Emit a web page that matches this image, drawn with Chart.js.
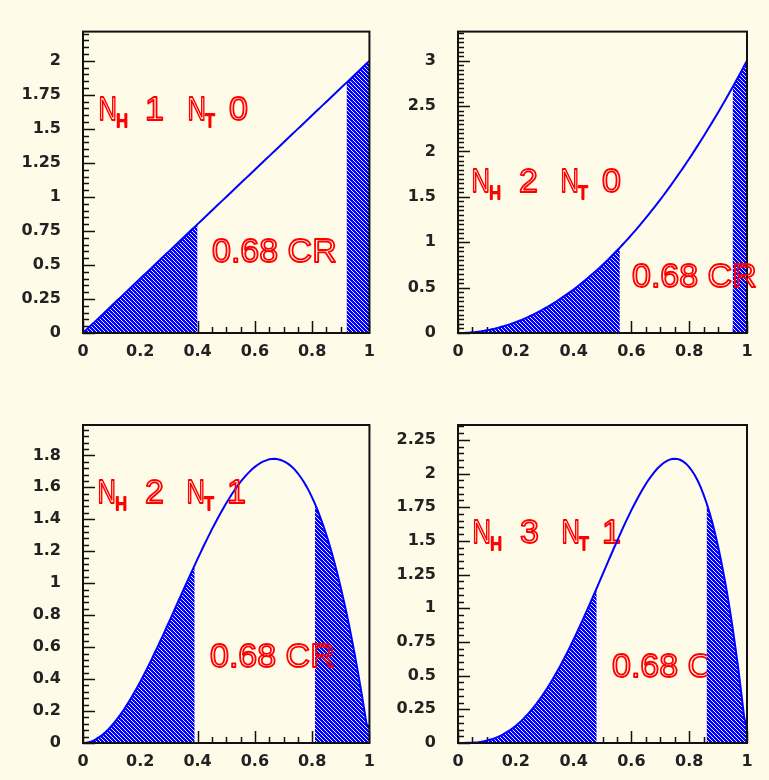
<!DOCTYPE html>
<html>
<head>
<meta charset="utf-8">
<script src="https://cdn.jsdelivr.net/npm/chart.js@4/dist/chart.umd.min.js"></script>
<style>
  html, body { margin:0; padding:0; background:#fffbe9; }
  body { width:769px; height:780px; position:relative; overflow:hidden; }
  canvas { position:absolute; }
</style>
</head>
<body>
<canvas id="c1" width="384" height="390" style="left:0px;top:0px"></canvas>
<canvas id="c2" width="384" height="390" style="left:385px;top:0px"></canvas>
<canvas id="c3" width="384" height="390" style="left:0px;top:390px"></canvas>
<canvas id="c4" width="384" height="390" style="left:385px;top:390px"></canvas>
<script>
// ---------------- DATA ----------------
const xValues = [0,0.01,0.02,0.03,0.04,0.05,0.06,0.07,0.08,0.09,
0.1,0.11,0.12,0.13,0.14,0.15,0.16,0.17,0.18,0.19,
0.2,0.21,0.22,0.23,0.24,0.25,0.26,0.27,0.28,0.29,
0.3,0.31,0.32,0.33,0.34,0.35,0.36,0.37,0.38,0.39,
0.4,0.41,0.42,0.43,0.44,0.45,0.46,0.47,0.48,0.49,
0.5,0.51,0.52,0.53,0.54,0.55,0.56,0.57,0.58,0.59,
0.6,0.61,0.62,0.63,0.64,0.65,0.66,0.67,0.68,0.69,
0.7,0.71,0.72,0.73,0.74,0.75,0.76,0.77,0.78,0.79,
0.8,0.81,0.82,0.83,0.84,0.85,0.86,0.87,0.88,0.89,
0.9,0.91,0.92,0.93,0.94,0.95,0.96,0.97,0.98,0.99,
1];

// N_H 1, N_T 0
const density1 = [0,0.02,0.04,0.06,0.08,0.1,0.12,0.14,0.16,0.18,
0.2,0.22,0.24,0.26,0.28,0.3,0.32,0.34,0.36,0.38,
0.4,0.42,0.44,0.46,0.48,0.5,0.52,0.54,0.56,0.58,
0.6,0.62,0.64,0.66,0.68,0.7,0.72,0.74,0.76,0.78,
0.8,0.82,0.84,0.86,0.88,0.9,0.92,0.94,0.96,0.98,
1,1.02,1.04,1.06,1.08,1.1,1.12,1.14,1.16,1.18,
1.2,1.22,1.24,1.26,1.28,1.3,1.32,1.34,1.36,1.38,
1.4,1.42,1.44,1.46,1.48,1.5,1.52,1.54,1.56,1.58,
1.6,1.62,1.64,1.66,1.68,1.7,1.72,1.74,1.76,1.78,
1.8,1.82,1.84,1.86,1.88,1.9,1.92,1.94,1.96,1.98,
2];
// N_H 2, N_T 0
const density2 = [0,0,0.001,0.003,0.005,0.008,0.011,0.015,0.019,0.024,
0.03,0.036,0.043,0.051,0.059,0.068,0.077,0.087,0.097,0.108,
0.12,0.132,0.145,0.159,0.173,0.188,0.203,0.219,0.235,0.252,
0.27,0.288,0.307,0.327,0.347,0.368,0.389,0.411,0.433,0.456,
0.48,0.504,0.529,0.555,0.581,0.608,0.635,0.663,0.691,0.72,
0.75,0.78,0.811,0.843,0.875,0.908,0.941,0.975,1.009,1.044,
1.08,1.116,1.153,1.191,1.229,1.268,1.307,1.347,1.387,1.428,
1.47,1.512,1.555,1.599,1.643,1.688,1.733,1.779,1.825,1.872,
1.92,1.968,2.017,2.067,2.117,2.168,2.219,2.271,2.323,2.376,
2.43,2.484,2.539,2.595,2.651,2.708,2.765,2.823,2.881,2.94,
3];
// N_H 2, N_T 1
const density3 = [0,0.001,0.005,0.01,0.018,0.029,0.041,0.055,0.071,0.088,
0.108,0.129,0.152,0.176,0.202,0.23,0.258,0.288,0.319,0.351,
0.384,0.418,0.453,0.489,0.525,0.563,0.6,0.639,0.677,0.717,
0.756,0.796,0.836,0.876,0.916,0.956,0.995,1.035,1.074,1.113,
1.152,1.19,1.228,1.265,1.301,1.337,1.371,1.405,1.438,1.469,
1.5,1.529,1.558,1.584,1.61,1.634,1.656,1.676,1.695,1.713,
1.728,1.741,1.753,1.762,1.769,1.775,1.777,1.778,1.776,1.771,
1.764,1.754,1.742,1.727,1.709,1.688,1.663,1.636,1.606,1.573,
1.536,1.496,1.452,1.405,1.355,1.301,1.243,1.181,1.115,1.046,
0.972,0.894,0.813,0.727,0.636,0.542,0.442,0.339,0.23,0.118,
0.1];
// N_H 3, N_T 1
const density4 = [0,0,0,0.001,0.001,0.002,0.004,0.006,0.009,0.013,
0.018,0.024,0.03,0.038,0.047,0.057,0.069,0.082,0.096,0.111,
0.128,0.146,0.166,0.187,0.21,0.234,0.26,0.287,0.316,0.346,
0.378,0.411,0.446,0.482,0.519,0.557,0.597,0.638,0.68,0.724,
0.768,0.813,0.859,0.906,0.954,1.002,1.051,1.101,1.15,1.2,
1.25,1.3,1.35,1.399,1.449,1.497,1.545,1.593,1.639,1.684,
1.728,1.77,1.811,1.85,1.887,1.922,1.955,1.985,2.012,2.037,
2.058,2.076,2.09,2.101,2.107,2.109,2.107,2.1,2.088,2.071,
2.048,2.019,1.985,1.944,1.897,1.842,1.781,1.712,1.636,1.551,
1.458,1.356,1.246,1.126,0.997,0.857,0.708,0.548,0.376,0.194,
0.1];

// excluded (shaded) tails: outside the 0.68 credible region
const shade1 = [[0, 0.40], [0.92, 1]];
const shade2 = [[0, 0.56], [0.95, 1]];
const shade3 = [[0, 0.39], [0.81, 1]];
const shade4 = [[0, 0.48], [0.86, 1]];

const nhValues = ['1', '2', '2', '3'];
const ntValues = ['0', '0', '1', '1'];
const crLabel = '0.68 CR';

const xTicks = [0, 0.2, 0.4, 0.6, 0.8, 1];
const xTickLabels = ['0', '0.2', '0.4', '0.6', '0.8', '1'];
const yTicks1 = [0, 0.25, 0.5, 0.75, 1, 1.25, 1.5, 1.75, 2];
const yTickLabels1 = ['0', '0.25', '0.5', '0.75', '1', '1.25', '1.5', '1.75', '2'];
const yTicks2 = [0, 0.5, 1, 1.5, 2, 2.5, 3];
const yTickLabels2 = ['0', '0.5', '1', '1.5', '2', '2.5', '3'];
const yTicks3 = [0, 0.2, 0.4, 0.6, 0.8, 1, 1.2, 1.4, 1.6, 1.8];
const yTickLabels3 = ['0', '0.2', '0.4', '0.6', '0.8', '1', '1.2', '1.4', '1.6', '1.8'];
const yTicks4 = [0, 0.25, 0.5, 0.75, 1, 1.25, 1.5, 1.75, 2, 2.25];
const yTickLabels4 = ['0', '0.25', '0.5', '0.75', '1', '1.25', '1.5', '1.75', '2', '2.25'];

// ---------------- STYLE ----------------
const BLUE = '#0000ff';
const RED = '#ff0000';
const TICK_FONT = { family: '"DejaVu Sans"', size: 16, weight: 'bold' };

function makeHatch(shift) {
  const c = document.createElement('canvas');
  c.width = 4; c.height = 4;
  const g = c.getContext('2d');
  const img = g.createImageData(4, 4);
  for (let y = 0; y < 4; y++) {
    for (let x = 0; x < 4; x++) {
      const i = (y * 4 + x) * 4;
      if (((x - y) % 4 + 4) % 4 === 0) {
        img.data[i] = 236; img.data[i+1] = 238; img.data[i+2] = 255; img.data[i+3] = 255;
      } else {
        img.data[i] = 0; img.data[i+1] = 0; img.data[i+2] = 255; img.data[i+3] = 255;
      }
    }
  }
  g.putImageData(img, 0, 0);
  const pat = g.createPattern(c, 'repeat');
  if (shift && pat.setTransform) pat.setTransform(new DOMMatrix([1, 0, 0, 1, shift, 0]));
  return pat;
}

function drawPiece(ctx, str, inkLeft, baseline, size, sx) {
  ctx.save();
  ctx.font = size + 'px "Liberation Sans"';
  const m = ctx.measureText(str);
  ctx.translate(inkLeft, baseline);
  ctx.scale(sx, 1);
  ctx.strokeStyle = RED;
  ctx.lineWidth = 1.8;
  ctx.lineJoin = 'round';
  ctx.strokeText(str, m.actualBoundingBoxLeft, 0);
  ctx.restore();
}

function drawLabels(chart, o) {
  const ctx = chart.ctx;
  const x0 = o.nPos[0], b = o.nPos[1];
  drawPiece(ctx, 'N', x0, b, 34, 0.75);
  drawPiece(ctx, 'H', x0 + 17, b + 7, 19, 0.85);
  drawPiece(ctx, o.nh, x0 + 47, b, 34, 1);
  drawPiece(ctx, 'N', x0 + 89, b, 34, 0.75);
  drawPiece(ctx, 'T', x0 + 105, b + 7, 19, 0.85);
  drawPiece(ctx, o.nt, x0 + 130, b, 34, 1);
  drawPiece(ctx, crLabel, o.crPos[0], o.crPos[1], 34, 1);
}

const rootDecor = {
  id: 'rootDecor',
  beforeDatasetsDraw(chart, args, o) {
    const ctx = chart.ctx, a = chart.chartArea;
    const xs = chart.scales.x, ys = chart.scales.y;
    ctx.save();
    ctx.strokeStyle = '#111';
    ctx.lineWidth = 1.5;
    ctx.beginPath();
    // y ticks (inside, from left axis)
    for (let k = 0; ; k++) {
      const v = k * o.yMinor;
      if (v > ys.max + 1e-9) break;
      const major = o.yMajor.some(m => Math.abs(m - v) < 1e-6);
      const p = Math.round(ys.getPixelForValue(v)) + 0.5;
      ctx.moveTo(a.left, p);
      ctx.lineTo(a.left + (major ? 12 : 6), p);
    }
    // x ticks (inside, from bottom axis)
    for (let k = 0; ; k++) {
      const v = k * 0.05;
      if (v > xs.max + 1e-9) break;
      const major = xTicks.some(m => Math.abs(m - v) < 1e-6);
      const p = Math.round(xs.getPixelForValue(v)) + 0.5;
      ctx.moveTo(p, a.bottom);
      ctx.lineTo(p, a.bottom - (major ? 12 : 6));
    }
    ctx.stroke();
    ctx.restore();
    if (o.textUnder) drawLabels(chart, o);
  },
  afterDatasetsDraw(chart, args, o) {
    const ctx = chart.ctx, a = chart.chartArea;
    ctx.save();
    ctx.strokeStyle = '#111';
    ctx.lineWidth = 2;
    ctx.strokeRect(a.left, a.top, a.right - a.left, a.bottom - a.top);
    ctx.restore();
    if (!o.textUnder) drawLabels(chart, o);
  }
};

function makePanel(id, density, shade, yMax, yTicks, yLabels, yMinor, geo, txt) {
  const pts = xValues.map((x, i) => ({ x: x, y: density[i] }));
  const hatch = makeHatch(geo.hatchShift);
  const datasets = [{
    data: pts, borderColor: BLUE, borderWidth: 2, pointRadius: 0,
    fill: false, tension: 0, order: 0
  }];
  shade.forEach(r => {
    datasets.push({
      data: pts.filter(p => p.x >= r[0] - 1e-9 && p.x <= r[1] + 1e-9),
      backgroundColor: hatch, borderWidth: 0, borderColor: 'rgba(0,0,0,0)',
      pointRadius: 0, fill: 'origin', tension: 0, order: 1
    });
  });
  return new Chart(document.getElementById(id), {
    type: 'line',
    data: { datasets: datasets },
    options: {
      responsive: false, animation: false, devicePixelRatio: 1,
      events: [],
      layout: { padding: { left: 0, top: geo.top, right: geo.right, bottom: 0 } },
      plugins: {
        legend: { display: false }, tooltip: { enabled: false },
        rootDecor: Object.assign({ yMinor: yMinor, yMajor: yTicks }, txt)
      },
      scales: {
        x: {
          type: 'linear', min: 0, max: 1,
          afterFit: s => { s.height = geo.xh; },
          afterBuildTicks: s => { s.ticks = xTicks.map(v => ({ value: v })); },
          ticks: { callback: (v, i) => xTickLabels[i], font: TICK_FONT, color: '#222',
                   padding: 9, maxRotation: 0, minRotation: 0, autoSkip: false },
          grid: { display: false, drawTicks: false }, border: { display: false }
        },
        y: {
          type: 'linear', min: 0, max: yMax,
          afterFit: s => { s.width = geo.yw; },
          afterBuildTicks: s => { s.ticks = yTicks.map(v => ({ value: v })); },
          ticks: { callback: (v, i) => yLabels[i], font: TICK_FONT, color: '#222',
                   padding: 22, autoSkip: false },
          grid: { display: false, drawTicks: false }, border: { display: false }
        }
      }
    },
    plugins: [rootDecor]
  });
}

makePanel('c1', density1, shade1, 2.215, yTicks1, yTickLabels1, 0.05,
  { top: 15, right: 13, yw: 83, xh: 57, hatchShift: 1 },
  { nh: nhValues[0], nt: ntValues[0], nPos: [100, 120], crPos: [213, 262], textUnder: false });
makePanel('c2', density2, shade2, 3.32, yTicks2, yTickLabels2, 0.05,
  { top: 15, right: 22, yw: 73, xh: 57, hatchShift: 0 },
  { nh: nhValues[1], nt: ntValues[1], nPos: [88, 192], crPos: [248, 287], textUnder: false });
makePanel('c3', density3, shade3, 1.99, yTicks3, yTickLabels3, 0.04,
  { top: 35, right: 13, yw: 83, xh: 37, hatchShift: 1 },
  { nh: nhValues[2], nt: ntValues[2], nPos: [99, 113], crPos: [211, 277], textUnder: false });
makePanel('c4', density4, shade4, 2.36, yTicks4, yTickLabels4, 0.05,
  { top: 35, right: 22, yw: 73, xh: 37, hatchShift: 0 },
  { nh: nhValues[3], nt: ntValues[3], nPos: [89, 153], crPos: [228, 287], textUnder: true });
</script>
</body>
</html>
